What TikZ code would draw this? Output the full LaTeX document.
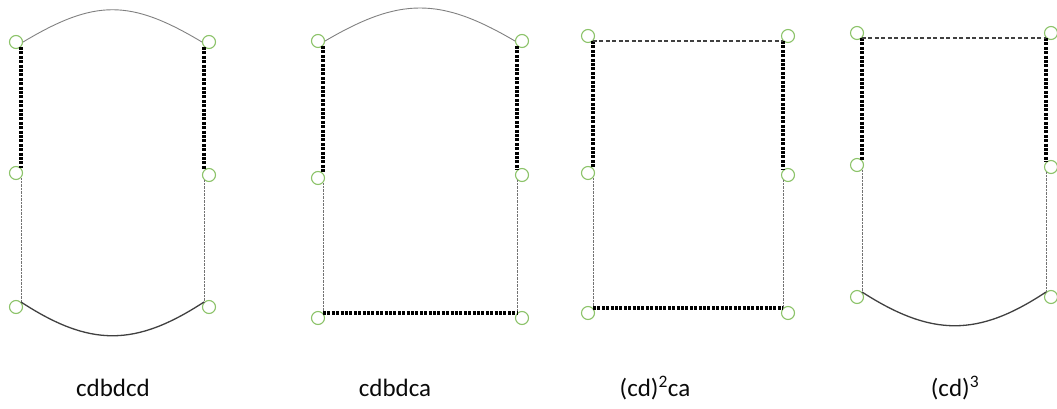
\documentclass[tikz,border=0pt]{standalone}
\usepackage{fontspec}
\setmainfont{Carlito}
\definecolor{vgreen}{RGB}{140,195,105}
\definecolor{lbl}{RGB}{10,10,10}
\tikzset{
  vtx/.style={circle,draw=vgreen,line width=1.1pt,minimum size=13pt,inner sep=0pt,fill=white},
  heavy/.style={line width=3.8pt,dash pattern=on 3pt off 1.4pt,black},
  thin/.style={line width=0.9pt,dash pattern=on 0.9pt off 0.5pt,black!55},
  arc/.style={line width=0.9pt,black!50},
  solidarc/.style={line width=1.3pt,black!75},
  dashtop/.style={line width=1.2pt,dash pattern=on 4pt off 2.5pt,black!75},
  lab/.style={font=\fontsize{25}{30}\selectfont,text=lbl}
}
\begin{document}
\begin{tikzpicture}[x=1pt,y=-1pt]
\useasboundingbox (0,0) rectangle (1057,409);
% ---------- diagram 1 ----------
\node[vtx] (a1) at (16,42) {};
\node[vtx] (b1) at (209,42) {};
\node[vtx] (c1) at (16,173) {};
\node[vtx] (d1) at (209,175) {};
\node[vtx] (e1) at (16,307) {};
\node[vtx] (f1) at (209,307) {};
\draw[heavy] (a1.south east) -- (c1.north east);
\draw[heavy] (b1.south west) -- (d1.north west);
\draw[thin] (c1.south east) -- (e1.north east);
\draw[thin] (d1.south west) -- (f1.north west);
\draw[arc] (a1.east) .. controls (95,-1) and (130,-1) .. (b1.west);
\draw[solidarc] (e1.north east) .. controls (90,347) and (135,347) .. (f1.north west);
\node[lab] (l1) at (113,388) {cdbdcd};
% ---------- diagram 2 ----------
\node[vtx] (a2) at (318,41) {};
\node[vtx] (b2) at (522,41) {};
\node[vtx] (c2) at (318,178) {};
\node[vtx] (d2) at (522,175) {};
\node[vtx] (e2) at (318,318) {};
\node[vtx] (f2) at (522,318) {};
\draw[heavy] (a2.south east) -- (c2.north east);
\draw[heavy] (b2.south west) -- (d2.north west);
\draw[thin] (c2.south east) -- (e2.north east);
\draw[thin] (d2.south west) -- (f2.north west);
\draw[arc] (a2.east) .. controls (400,-3) and (440,-3) .. (b2.west);
\draw[heavy] (e2.north east) -- (f2.north west);
\node[lab] (l2) at (395,388) {cdbdca};
% ---------- diagram 3 ----------
\node[vtx] (a3) at (588,36) {};
\node[vtx] (b3) at (788,36) {};
\node[vtx] (c3) at (588,173) {};
\node[vtx] (d3) at (788,175) {};
\node[vtx] (e3) at (588,313) {};
\node[vtx] (f3) at (788,313) {};
\draw[heavy] (a3.south east) -- (c3.north east);
\draw[heavy] (b3.south west) -- (d3.north west);
\draw[thin] (c3.south east) -- (e3.north east);
\draw[thin] (d3.south west) -- (f3.north west);
\draw[dashtop] (a3.south east) -- (b3.south west);
\draw[heavy] (e3.north east) -- (f3.north west);
\node[lab] (l3) at (655,388) {(cd)\textsuperscript{2}ca};
% ---------- diagram 4 ----------
\node[vtx] (a4) at (857,33) {};
\node[vtx] (b4) at (1051,33) {};
\node[vtx] (c4) at (857,165) {};
\node[vtx] (d4) at (1051,167) {};
\node[vtx] (e4) at (857,297) {};
\node[vtx] (f4) at (1051,297) {};
\draw[heavy] (a4.south east) -- (c4.north east);
\draw[heavy] (b4.south west) -- (d4.north west);
\draw[thin] (c4.south east) -- (e4.north east);
\draw[thin] (d4.south west) -- (f4.north west);
\draw[dashtop] (a4.south east) -- (b4.south west);
\draw[solidarc] (e4.north east) .. controls (932,337) and (978,337) .. (f4.north west);
\node[lab] (l4) at (955,388) {(cd)\textsuperscript{3}};
\end{tikzpicture}
\end{document}
